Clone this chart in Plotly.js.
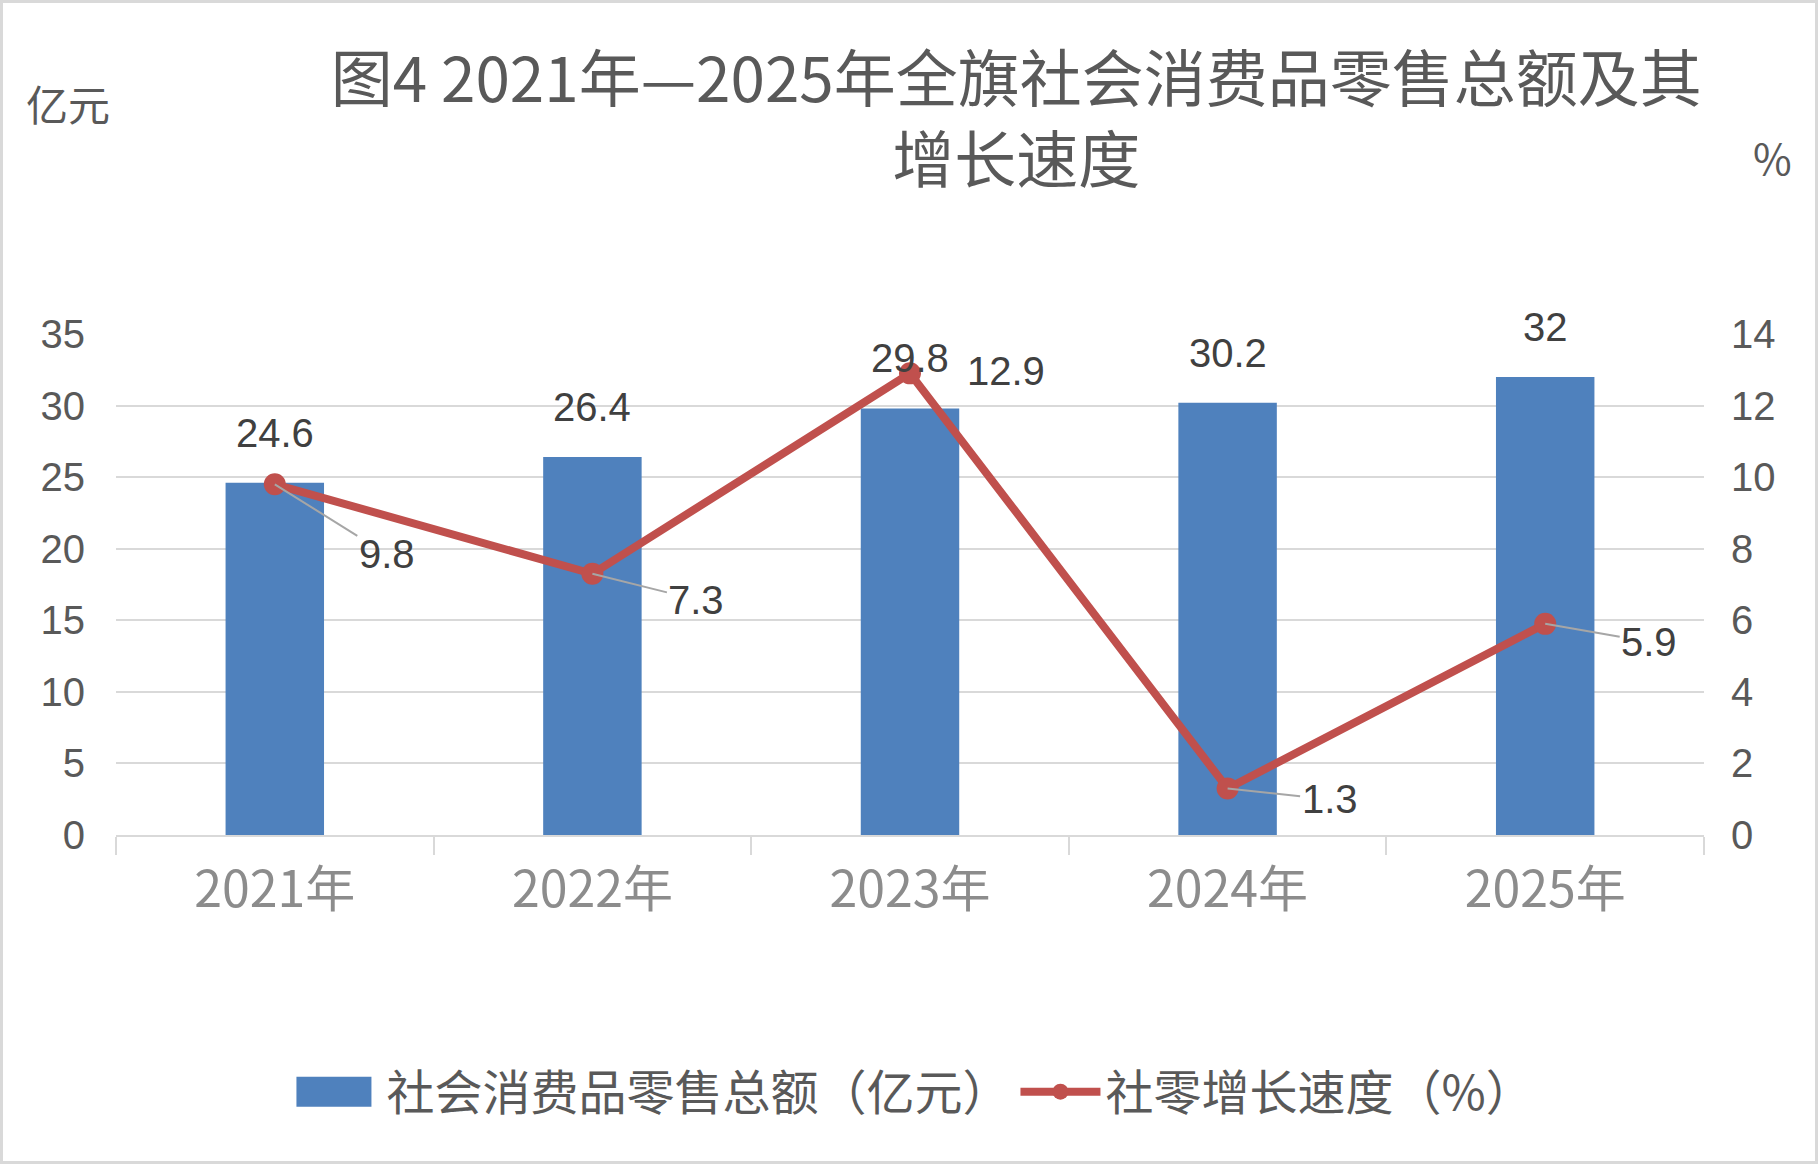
<!DOCTYPE html>
<html>
<head>
<meta charset="utf-8">
<script src="https://cdn.plot.ly/plotly-3.0.1.min.js"></script>
<style>
  html, body { margin: 0; padding: 0; background: #ffffff; }
  #wrap { position: relative; width: 1818px; height: 1164px; }
  #chart { width: 1818px; height: 1164px; }
  #frame {
    position: absolute;
    left: 0; top: 0; right: 0; bottom: 0;
    border: 3px solid #d9d9d9;
    pointer-events: none;
    z-index: 10;
  }
</style>
</head>
<body>
<div id="wrap">
  <div id="chart"></div>
  <div id="frame"></div>
</div>
<script>
  // Chart values.
  const categories = ["2021年", "2022年", "2023年", "2024年", "2025年"];
  const retailSales = [24.6, 26.4, 29.8, 30.2, 32];   // 亿元, left axis
  const growthRate = [9.8, 7.3, 12.9, 1.3, 5.9];      // %, right axis

  const salesName = "社会消费品零售总额（亿元）";
  const growthName = "社零增长速度（%）";
  const titleText = "图4 2021年—2025年全旗社会消费品零售总额及其<br>增长速度";

  // Where each growth label sits relative to its point (pixels), and whether
  // a leader line is drawn to it.
  const GROWTH_LABEL_OFFSET = [[112, 70], [104, 26], [96, -2], [102, 11], [104, 18]];
  const GROWTH_LEADER = [true, true, false, true, true];

  const BLUE = "#4f81bd";
  const RED = "#c0504d";
  const GRID = "#d9d9d9";
  const TEXT = "#595959";
  const LABEL = "#404040";
  const NUM_FONT = "Liberation Sans, Arial, sans-serif";
  const CJK_FONT = "Noto Sans CJK SC, sans-serif";

  const bars = {
    type: "bar",
    name: salesName,
    x: categories,
    y: retailSales,
    marker: { color: BLUE },
    hoverinfo: "x+y",
  };

  const line = {
    type: "scatter",
    mode: "lines+markers",
    name: growthName,
    x: categories,
    y: growthRate,
    yaxis: "y2",
    line: { color: RED, width: 8 },
    marker: { color: RED, size: 22 },
    hoverinfo: "x+y",
  };

  const annotations = [];

  retailSales.forEach(function (value, i) {
    annotations.push({
      x: categories[i],
      y: value,
      xref: "x",
      yref: "y",
      text: String(value),
      showarrow: false,
      yshift: 50,
      font: { family: NUM_FONT, size: 40, color: LABEL },
    });
  });

  growthRate.forEach(function (value, i) {
    annotations.push({
      x: categories[i],
      y: value,
      xref: "x",
      yref: "y2",
      text: String(value),
      showarrow: true,
      arrowhead: 0,
      arrowwidth: 2,
      arrowcolor: GROWTH_LEADER[i] ? "#a6a6a6" : "rgba(0,0,0,0)",
      ax: GROWTH_LABEL_OFFSET[i][0],
      ay: GROWTH_LABEL_OFFSET[i][1],
      font: { family: NUM_FONT, size: 40, color: LABEL },
    });
  });

  // Unit captions above the two value axes.
  annotations.push({
    xref: "paper", yref: "paper",
    x: -0.058, y: 1.462,
    xanchor: "left", yanchor: "middle",
    text: "亿元", showarrow: false,
    font: { family: CJK_FONT, size: 42, color: TEXT },
  });
  annotations.push({
    xref: "paper", yref: "paper",
    x: 1.043, y: 1.355,
    xanchor: "center", yanchor: "middle",
    text: "%", showarrow: false,
    font: { family: CJK_FONT, size: 42, color: TEXT },
  });

  const layout = {
    width: 1818,
    height: 1164,
    paper_bgcolor: "#ffffff",
    plot_bgcolor: "#ffffff",
    margin: { l: 116, r: 114, t: 334, b: 329 },
    title: {
      text: titleText,
      x: 0.559,
      xref: "container",
      xanchor: "center",
      y: 0.912,
      yref: "container",
      yanchor: "top",
      font: { family: CJK_FONT, size: 62, color: TEXT },
    },
    bargap: 0.69,
    showlegend: true,
    legend: {
      orientation: "h",
      x: 0.505,
      xanchor: "center",
      y: -0.513,
      yanchor: "middle",
      itemwidth: 80,
      font: { family: CJK_FONT, size: 48, color: TEXT },
      bgcolor: "rgba(0,0,0,0)",
    },
    xaxis: {
      type: "category",
      tickson: "boundaries",
      ticks: "outside",
      ticklen: 18,
      tickwidth: 2,
      tickcolor: GRID,
      showline: true,
      linecolor: GRID,
      linewidth: 2,
      showgrid: false,
      ticklabelstandoff: 10,
      tickfont: { family: CJK_FONT, size: 50, color: "#8c8c8c" },
      fixedrange: true,
    },
    yaxis: {
      range: [0, 35],
      dtick: 5,
      showgrid: true,
      gridcolor: GRID,
      gridwidth: 2,
      zeroline: false,
      showline: false,
      ticks: "",
      ticklabelstandoff: 30,
      tickfont: { family: NUM_FONT, size: 40, color: TEXT },
      fixedrange: true,
    },
    yaxis2: {
      overlaying: "y",
      side: "right",
      range: [0, 14],
      dtick: 2,
      showgrid: false,
      zeroline: false,
      showline: false,
      ticks: "",
      ticklabelstandoff: 26,
      tickfont: { family: NUM_FONT, size: 40, color: TEXT },
      fixedrange: true,
    },
    annotations: annotations,
  };

  // Excel draws a wide swatch for the bar series; widen Plotly's small square
  // and leave a little gap before the legend text.
  function widenBarSwatch() {
    document.querySelectorAll("#chart .legend path").forEach(function (p) {
      const d = p.getAttribute("d") || "";
      if (/^M6,6H-6V-6H6Z/.test(d)) {
        p.setAttribute("d", "M-48,-15H30V15H-48Z");
      }
    });
  }

  Plotly.newPlot("chart", [bars, line], layout, { displayModeBar: false, staticPlot: true })
    .then(function () {
      widenBarSwatch();
      setTimeout(widenBarSwatch, 200);
    });
</script>
</body>
</html>
